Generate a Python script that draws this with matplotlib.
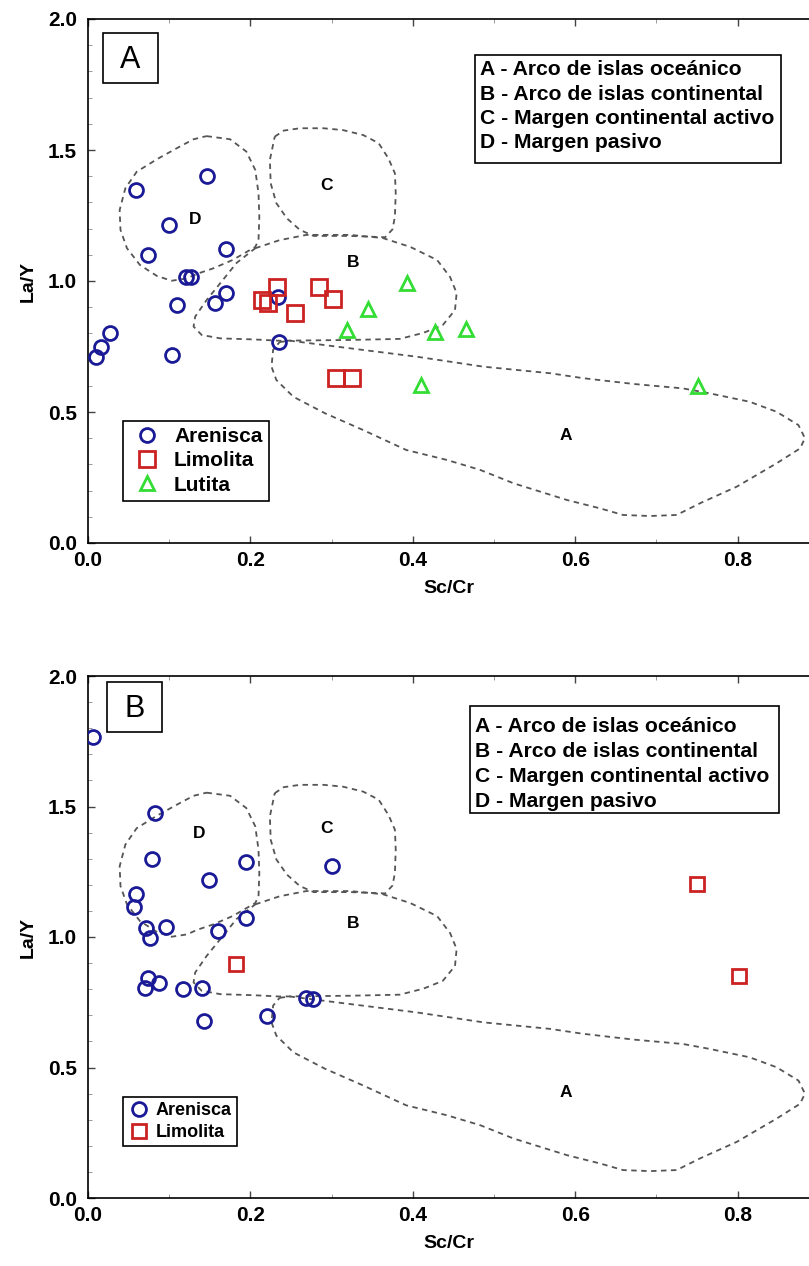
import matplotlib.pyplot as plt
from matplotlib.patches import Rectangle
from matplotlib.ticker import MultipleLocator

plt.rcParams['font.family'] = ['Liberation Sans', 'DejaVu Sans']

# panel A samples (Sc/Cr, La/Y)
a_aren_x = [0.059, 0.147, 0.100, 0.074, 0.170, 0.121, 0.127, 0.110, 0.156, 0.170,
            0.010, 0.016, 0.027, 0.103, 0.235, 0.234]
a_aren_y = [1.347, 1.400, 1.214, 1.099, 1.122, 1.015, 1.015, 0.908, 0.916, 0.954,
            0.710, 0.748, 0.802, 0.718, 0.767, 0.939]
a_limo_x = [0.214, 0.233, 0.222, 0.255, 0.284, 0.302, 0.305, 0.325]
a_limo_y = [0.927, 0.977, 0.916, 0.878, 0.977, 0.931, 0.630, 0.630]
a_luti_x = [0.393, 0.345, 0.319, 0.427, 0.466, 0.410, 0.751]
a_luti_y = [0.992, 0.893, 0.813, 0.805, 0.817, 0.603, 0.599]

# panel B samples
b_aren_x = [0.006, 0.082, 0.079, 0.149, 0.195, 0.059, 0.057, 0.071, 0.076, 0.096,
            0.160, 0.195, 0.300, 0.074, 0.070, 0.087, 0.117, 0.140, 0.143, 0.220,
            0.268, 0.277]
b_aren_y = [1.766, 1.475, 1.299, 1.218, 1.287, 1.165, 1.115, 1.034, 0.996, 1.038,
            1.023, 1.073, 1.272, 0.842, 0.803, 0.825, 0.800, 0.806, 0.679, 0.697,
            0.766, 0.762]
b_limo_x = [0.182, 0.750, 0.802]
b_limo_y = [0.897, 1.203, 0.851]

# tectonic setting fields (outlines)
field_a_x = [0.236, 0.249, 0.323, 0.405, 0.487, 0.569, 0.610, 0.672, 0.733, 0.766,
             0.815, 0.848, 0.875, 0.883, 0.877, 0.848, 0.799, 0.754, 0.725, 0.692,
             0.659, 0.631, 0.590, 0.524, 0.483, 0.442, 0.392, 0.339, 0.292, 0.253,
             0.232, 0.226, 0.228, 0.236]
field_a_y = [0.767, 0.772, 0.743, 0.711, 0.673, 0.648, 0.629, 0.607, 0.590, 0.571,
             0.539, 0.501, 0.450, 0.400, 0.361, 0.304, 0.215, 0.152, 0.107, 0.103,
             0.107, 0.132, 0.164, 0.228, 0.279, 0.317, 0.355, 0.431, 0.495, 0.558,
             0.622, 0.673, 0.737, 0.767]
field_b_x = [0.206, 0.236, 0.269, 0.323, 0.363, 0.397, 0.430, 0.446, 0.454, 0.452,
             0.437, 0.413, 0.384, 0.323, 0.236, 0.204, 0.163, 0.140, 0.130, 0.132,
             0.146, 0.163, 0.183, 0.206]
field_b_y = [1.125, 1.156, 1.176, 1.176, 1.164, 1.130, 1.080, 1.015, 0.954, 0.889,
             0.832, 0.802, 0.779, 0.775, 0.772, 0.777, 0.781, 0.794, 0.826, 0.864,
             0.927, 0.992, 1.069, 1.125]
field_c_x = [0.230, 0.241, 0.261, 0.290, 0.314, 0.339, 0.358, 0.370, 0.378, 0.379,
             0.378, 0.375, 0.366, 0.323, 0.278, 0.261, 0.245, 0.232, 0.225, 0.224,
             0.230]
field_c_y = [1.551, 1.574, 1.583, 1.583, 1.576, 1.557, 1.526, 1.468, 1.411, 1.335,
             1.245, 1.197, 1.167, 1.172, 1.172, 1.195, 1.239, 1.297, 1.373, 1.462,
             1.551]
field_d_x = [0.146, 0.175, 0.195, 0.206, 0.210, 0.211, 0.210, 0.206, 0.178, 0.154,
             0.134, 0.122, 0.103, 0.085, 0.064, 0.048, 0.040, 0.039, 0.046, 0.060,
             0.085, 0.113, 0.130, 0.146]
field_d_y = [1.553, 1.541, 1.494, 1.424, 1.335, 1.245, 1.156, 1.130, 1.080, 1.048,
             1.027, 1.010, 1.001, 1.019, 1.061, 1.125, 1.195, 1.271, 1.354, 1.417,
             1.465, 1.513, 1.541, 1.553]

settings = ['A - Arco de islas oceánico', 'B - Arco de islas continental',
            'C - Margen continental activo', 'D - Margen pasivo']

BLUE = '#1a1a96'
RED = '#cc2222'
GREEN = '#33dd33'

fig = plt.figure(figsize=(8.09, 12.66), dpi=100)
ax1 = fig.add_axes([88 / 809, 723 / 1266, 721 / 809, 524 / 1266])
ax2 = fig.add_axes([88 / 809, 68 / 1266, 721 / 809, 522 / 1266])


def draw_fields(ax, lbl_pos):
    for fx, fy in [(field_a_x, field_a_y), (field_b_x, field_b_y),
                   (field_c_x, field_c_y), (field_d_x, field_d_y)]:
        ax.plot(fx, fy, color='#555555', lw=1.3, dashes=(3, 2.5), zorder=1)
    for letter, (lx, ly) in zip('ABCD', lbl_pos):
        ax.text(lx, ly, letter, fontsize=12.5, fontweight='bold',
                ha='center', va='center', zorder=2)


def style_axes(ax, tag, box, lines_y, text_x):
    ax.set_xlim(0, 0.888)
    ax.set_ylim(0, 2.0)
    ax.xaxis.set_major_locator(MultipleLocator(0.2))
    ax.xaxis.set_minor_locator(MultipleLocator(0.1))
    ax.yaxis.set_major_locator(MultipleLocator(0.5))
    ax.yaxis.set_minor_locator(MultipleLocator(0.1))
    ax.tick_params(which='both', direction='in', top=True, right=False,
                   labelsize=15, color='#444444')
    ax.tick_params(which='major', length=5, width=1)
    ax.tick_params(which='minor', length=3, width=0.7, color='#999999')
    ax.tick_params(axis='x', which='major', pad=6)
    ax.tick_params(axis='y', which='major', pad=8)
    for t in ax.get_xticklabels() + ax.get_yticklabels():
        t.set_fontweight('bold')
    ax.spines['right'].set_visible(False)
    for s in ['left', 'bottom', 'top']:
        ax.spines[s].set_linewidth(1.2)
    ax.set_xlabel('Sc/Cr', fontsize=14, fontweight='bold', labelpad=7)
    ax.set_ylabel('La/Y', fontsize=14, fontweight='bold', labelpad=8)

    # panel tag box
    x0, y0, x1, y1 = tag[1]
    ax.add_patch(Rectangle((x0, y0), x1 - x0, y1 - y0, transform=ax.transAxes,
                           fill=False, edgecolor='black', lw=1.2, zorder=5))
    ax.text((x0 + x1) / 2, (y0 + y1) / 2 - 0.003, tag[0], transform=ax.transAxes,
            fontsize=22, ha='center', va='center', zorder=5)

    # tectonic setting key
    bx0, by0, bx1, by1 = box
    ax.add_patch(Rectangle((bx0, by0), bx1 - bx0, by1 - by0, transform=ax.transAxes,
                           facecolor='white', edgecolor='black', lw=1.2, zorder=5))
    for s, yy in zip(settings, lines_y):
        ax.text(text_x, yy, s, transform=ax.transAxes, fontsize=15.2,
                fontweight='bold', ha='left', va='center', zorder=6)


# ---- panel A
draw_fields(ax1, [(0.589, 0.412), (0.326, 1.071), (0.294, 1.366), (0.132, 1.235)])
ax1.plot(a_aren_x, a_aren_y, 'o', ms=10, mfc='none', mec=BLUE, mew=2,
         label='Arenisca', zorder=3)
ax1.plot(a_limo_x, a_limo_y, 's', ms=11, mfc='none', mec=RED, mew=2,
         label='Limolita', zorder=3)
ax1.plot(a_luti_x, a_luti_y, '^', ms=10, mfc='none', mec=GREEN, mew=2,
         label='Lutita', zorder=3)
style_axes(ax1, ('A', (0.0208, 0.8779, 0.0971, 0.9733)),
           (0.537, 0.7252, 0.961, 0.9313),
           [0.9027, 0.8550, 0.8092, 0.7634], 0.5437)
leg1 = ax1.legend(loc='upper left', bbox_to_anchor=(0.0485, 0.2328),
                  borderaxespad=0, fancybox=False, edgecolor='black',
                  framealpha=1, prop={'weight': 'bold', 'size': 15},
                  handletextpad=0.45, labelspacing=0.25, borderpad=0.3,
                  handlelength=1.7)
leg1.get_frame().set_linewidth(1.2)

# ---- panel B
draw_fields(ax2, [(0.589, 0.406), (0.326, 1.052), (0.294, 1.416), (0.137, 1.398)])
ax2.plot(b_aren_x, b_aren_y, 'o', ms=10, mfc='none', mec=BLUE, mew=2,
         label='Arenisca', zorder=3)
ax2.plot(b_limo_x, b_limo_y, 's', ms=10, mfc='none', mec=RED, mew=2,
         label='Limolita', zorder=3)
style_axes(ax2, ('B', (0.0264, 0.8927, 0.1026, 0.9885)),
           (0.530, 0.7375, 0.958, 0.9425),
           [0.9042, 0.8563, 0.8084, 0.7605], 0.537)
leg2 = ax2.legend(loc='upper left', bbox_to_anchor=(0.0485, 0.1935),
                  borderaxespad=0, fancybox=False, edgecolor='black',
                  framealpha=1, prop={'weight': 'bold', 'size': 13},
                  handletextpad=0.3, labelspacing=0.25, borderpad=0.3,
                  handlelength=1.2)
leg2.get_frame().set_linewidth(1.2)

fig.savefig('out.png', dpi=100, facecolor='white')
